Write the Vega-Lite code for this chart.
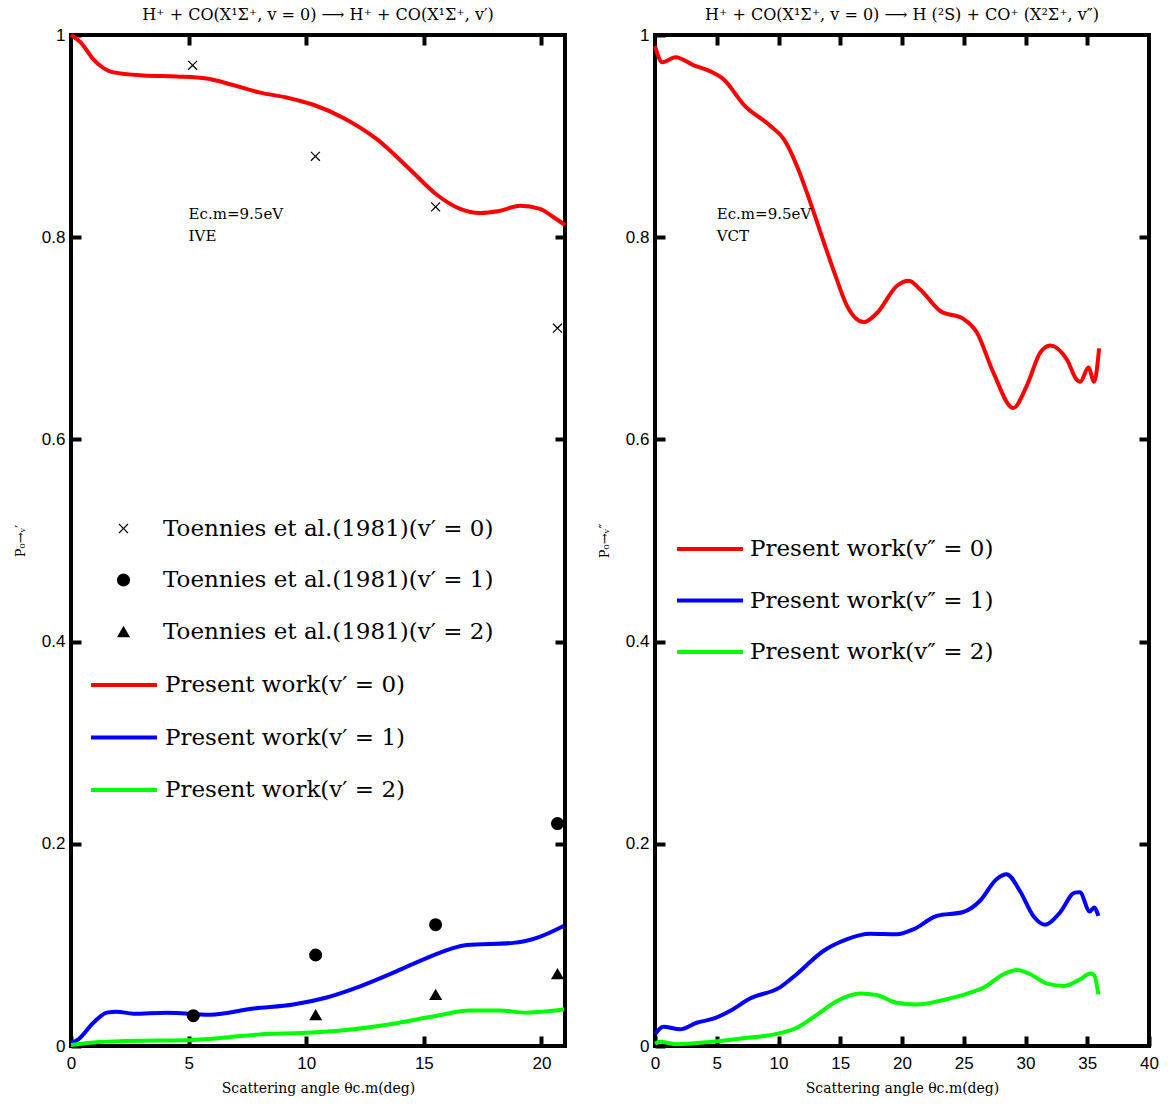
{
  "$schema": "https://vega.github.io/schema/vega-lite/v6.json",
  "background": "white",
  "padding": {"left": 12, "top": 5, "right": 0, "bottom": 0},
  "spacing": 21,
  "config": {
    "view": {"stroke": "black", "strokeWidth": 4},
    "axis": {
      "domain": false,
      "grid": false,
      "ticks": true,
      "tickColor": "black",
      "tickWidth": 4,
      "tickSize": -10,
      "labelFlush": false,
      "labelFont": "Liberation Sans",
      "labelFontSize": 17,
      "labelColor": "black",
      "titleFont": "DejaVu Serif",
      "titleFontWeight": "normal",
      "titleColor": "black"
    },
    "title": {"font": "DejaVu Serif", "fontSize": 16, "fontWeight": "normal", "color": "black", "offset": 3},
    "legend": {"padding": 0, "labelFont": "DejaVu Serif", "labelFontSize": 23, "labelColor": "black", "labelLimit": 0, "title": null}
  },
  "datasets": {
    "ive": [
      {"angle": 0, "p": 1.0, "series": "Present work(v′ = 0)"},
      {"angle": 0.4, "p": 0.993, "series": "Present work(v′ = 0)"},
      {"angle": 0.95, "p": 0.976, "series": "Present work(v′ = 0)"},
      {"angle": 1.4, "p": 0.967, "series": "Present work(v′ = 0)"},
      {"angle": 1.8, "p": 0.963, "series": "Present work(v′ = 0)"},
      {"angle": 3.07, "p": 0.96, "series": "Present work(v′ = 0)"},
      {"angle": 4.5, "p": 0.959, "series": "Present work(v′ = 0)"},
      {"angle": 5.77, "p": 0.957, "series": "Present work(v′ = 0)"},
      {"angle": 6.8, "p": 0.951, "series": "Present work(v′ = 0)"},
      {"angle": 8.04, "p": 0.943, "series": "Present work(v′ = 0)"},
      {"angle": 9.2, "p": 0.938, "series": "Present work(v′ = 0)"},
      {"angle": 10.3, "p": 0.931, "series": "Present work(v′ = 0)"},
      {"angle": 11.58, "p": 0.918, "series": "Present work(v′ = 0)"},
      {"angle": 13.0, "p": 0.897, "series": "Present work(v′ = 0)"},
      {"angle": 14.41, "p": 0.867, "series": "Present work(v′ = 0)"},
      {"angle": 15.55, "p": 0.842, "series": "Present work(v′ = 0)"},
      {"angle": 16.54, "p": 0.828, "series": "Present work(v′ = 0)"},
      {"angle": 17.39, "p": 0.824, "series": "Present work(v′ = 0)"},
      {"angle": 18.2, "p": 0.826, "series": "Present work(v′ = 0)"},
      {"angle": 19.09, "p": 0.831, "series": "Present work(v′ = 0)"},
      {"angle": 19.94, "p": 0.828, "series": "Present work(v′ = 0)"},
      {"angle": 20.5, "p": 0.82, "series": "Present work(v′ = 0)"},
      {"angle": 21.0, "p": 0.812, "series": "Present work(v′ = 0)"},
      {"angle": 0, "p": 0.003, "series": "Present work(v′ = 1)"},
      {"angle": 0.31, "p": 0.0066, "series": "Present work(v′ = 1)"},
      {"angle": 0.95, "p": 0.023, "series": "Present work(v′ = 1)"},
      {"angle": 1.52, "p": 0.033, "series": "Present work(v′ = 1)"},
      {"angle": 1.94, "p": 0.034, "series": "Present work(v′ = 1)"},
      {"angle": 2.65, "p": 0.032, "series": "Present work(v′ = 1)"},
      {"angle": 4.07, "p": 0.033, "series": "Present work(v′ = 1)"},
      {"angle": 5.91, "p": 0.031, "series": "Present work(v′ = 1)"},
      {"angle": 7.75, "p": 0.037, "series": "Present work(v′ = 1)"},
      {"angle": 9.45, "p": 0.041, "series": "Present work(v′ = 1)"},
      {"angle": 10.87, "p": 0.048, "series": "Present work(v′ = 1)"},
      {"angle": 12.29, "p": 0.059, "series": "Present work(v′ = 1)"},
      {"angle": 13.7, "p": 0.0725, "series": "Present work(v′ = 1)"},
      {"angle": 15.12, "p": 0.087, "series": "Present work(v′ = 1)"},
      {"angle": 16.82, "p": 0.1, "series": "Present work(v′ = 1)"},
      {"angle": 18.8, "p": 0.102, "series": "Present work(v′ = 1)"},
      {"angle": 19.8, "p": 0.107, "series": "Present work(v′ = 1)"},
      {"angle": 20.96, "p": 0.119, "series": "Present work(v′ = 1)"},
      {"angle": 0, "p": 0.001, "series": "Present work(v′ = 2)"},
      {"angle": 1.2, "p": 0.004, "series": "Present work(v′ = 2)"},
      {"angle": 2.37, "p": 0.005, "series": "Present work(v′ = 2)"},
      {"angle": 5.2, "p": 0.006, "series": "Present work(v′ = 2)"},
      {"angle": 8.04, "p": 0.0115, "series": "Present work(v′ = 2)"},
      {"angle": 10.0, "p": 0.013, "series": "Present work(v′ = 2)"},
      {"angle": 11.58, "p": 0.0155, "series": "Present work(v′ = 2)"},
      {"angle": 13.7, "p": 0.022, "series": "Present work(v′ = 2)"},
      {"angle": 15.55, "p": 0.03, "series": "Present work(v′ = 2)"},
      {"angle": 16.96, "p": 0.035, "series": "Present work(v′ = 2)"},
      {"angle": 18.2, "p": 0.035, "series": "Present work(v′ = 2)"},
      {"angle": 19.37, "p": 0.033, "series": "Present work(v′ = 2)"},
      {"angle": 20.96, "p": 0.036, "series": "Present work(v′ = 2)"}
    ],
    "toennies": [
      {"angle": 5.17, "p": 0.97, "series": "Toennies et al.(1981)(v′ = 0)"},
      {"angle": 10.39, "p": 0.88, "series": "Toennies et al.(1981)(v′ = 0)"},
      {"angle": 15.5, "p": 0.83, "series": "Toennies et al.(1981)(v′ = 0)"},
      {"angle": 20.68, "p": 0.71, "series": "Toennies et al.(1981)(v′ = 0)"},
      {"angle": 5.2, "p": 0.03, "series": "Toennies et al.(1981)(v′ = 1)"},
      {"angle": 10.4, "p": 0.09, "series": "Toennies et al.(1981)(v′ = 1)"},
      {"angle": 15.5, "p": 0.12, "series": "Toennies et al.(1981)(v′ = 1)"},
      {"angle": 20.68, "p": 0.22, "series": "Toennies et al.(1981)(v′ = 1)"},
      {"angle": 10.4, "p": 0.031, "series": "Toennies et al.(1981)(v′ = 2)"},
      {"angle": 15.5, "p": 0.051, "series": "Toennies et al.(1981)(v′ = 2)"},
      {"angle": 20.68, "p": 0.0715, "series": "Toennies et al.(1981)(v′ = 2)"}
    ],
    "vct": [
      {"angle": 0.0, "p": 0.989, "state": "Present work(v″ = 0)"},
      {"angle": 0.6, "p": 0.973, "state": "Present work(v″ = 0)"},
      {"angle": 1.66, "p": 0.978, "state": "Present work(v″ = 0)"},
      {"angle": 3.14, "p": 0.97, "state": "Present work(v″ = 0)"},
      {"angle": 4.49, "p": 0.964, "state": "Present work(v″ = 0)"},
      {"angle": 5.57, "p": 0.956, "state": "Present work(v″ = 0)"},
      {"angle": 7.19, "p": 0.931, "state": "Present work(v″ = 0)"},
      {"angle": 9.35, "p": 0.91, "state": "Present work(v″ = 0)"},
      {"angle": 10.43, "p": 0.897, "state": "Present work(v″ = 0)"},
      {"angle": 11.51, "p": 0.87, "state": "Present work(v″ = 0)"},
      {"angle": 12.59, "p": 0.834, "state": "Present work(v″ = 0)"},
      {"angle": 13.67, "p": 0.795, "state": "Present work(v″ = 0)"},
      {"angle": 14.61, "p": 0.762, "state": "Present work(v″ = 0)"},
      {"angle": 15.55, "p": 0.732, "state": "Present work(v″ = 0)"},
      {"angle": 16.9, "p": 0.716, "state": "Present work(v″ = 0)"},
      {"angle": 17.98, "p": 0.725, "state": "Present work(v″ = 0)"},
      {"angle": 19.6, "p": 0.752, "state": "Present work(v″ = 0)"},
      {"angle": 20.55, "p": 0.757, "state": "Present work(v″ = 0)"},
      {"angle": 21.5, "p": 0.748, "state": "Present work(v″ = 0)"},
      {"angle": 23.1, "p": 0.727, "state": "Present work(v″ = 0)"},
      {"angle": 25.0, "p": 0.719, "state": "Present work(v″ = 0)"},
      {"angle": 26.05, "p": 0.706, "state": "Present work(v″ = 0)"},
      {"angle": 27.4, "p": 0.666, "state": "Present work(v″ = 0)"},
      {"angle": 29.0, "p": 0.631, "state": "Present work(v″ = 0)"},
      {"angle": 30.1, "p": 0.653, "state": "Present work(v″ = 0)"},
      {"angle": 31.2, "p": 0.686, "state": "Present work(v″ = 0)"},
      {"angle": 32.0, "p": 0.693, "state": "Present work(v″ = 0)"},
      {"angle": 33.35, "p": 0.679, "state": "Present work(v″ = 0)"},
      {"angle": 34.15, "p": 0.659, "state": "Present work(v″ = 0)"},
      {"angle": 34.43, "p": 0.657, "state": "Present work(v″ = 0)"},
      {"angle": 35.1, "p": 0.671, "state": "Present work(v″ = 0)"},
      {"angle": 35.56, "p": 0.657, "state": "Present work(v″ = 0)"},
      {"angle": 35.96, "p": 0.69, "state": "Present work(v″ = 0)"},
      {"angle": 0.0, "p": 0.0116, "state": "Present work(v″ = 1)"},
      {"angle": 0.67, "p": 0.019, "state": "Present work(v″ = 1)"},
      {"angle": 2.03, "p": 0.0165, "state": "Present work(v″ = 1)"},
      {"angle": 3.37, "p": 0.023, "state": "Present work(v″ = 1)"},
      {"angle": 4.72, "p": 0.027, "state": "Present work(v″ = 1)"},
      {"angle": 6.07, "p": 0.0346, "state": "Present work(v″ = 1)"},
      {"angle": 7.69, "p": 0.047, "state": "Present work(v″ = 1)"},
      {"angle": 10.12, "p": 0.058, "state": "Present work(v″ = 1)"},
      {"angle": 11.47, "p": 0.071, "state": "Present work(v″ = 1)"},
      {"angle": 13.63, "p": 0.094, "state": "Present work(v″ = 1)"},
      {"angle": 15.52, "p": 0.1055, "state": "Present work(v″ = 1)"},
      {"angle": 17.41, "p": 0.111, "state": "Present work(v″ = 1)"},
      {"angle": 19.57, "p": 0.1105, "state": "Present work(v″ = 1)"},
      {"angle": 20.92, "p": 0.1154, "state": "Present work(v″ = 1)"},
      {"angle": 22.8, "p": 0.1286, "state": "Present work(v″ = 1)"},
      {"angle": 24.96, "p": 0.1325, "state": "Present work(v″ = 1)"},
      {"angle": 26.3, "p": 0.1434, "state": "Present work(v″ = 1)"},
      {"angle": 27.65, "p": 0.165, "state": "Present work(v″ = 1)"},
      {"angle": 28.46, "p": 0.17, "state": "Present work(v″ = 1)"},
      {"angle": 29.55, "p": 0.1533, "state": "Present work(v″ = 1)"},
      {"angle": 30.63, "p": 0.1286, "state": "Present work(v″ = 1)"},
      {"angle": 31.58, "p": 0.12, "state": "Present work(v″ = 1)"},
      {"angle": 32.79, "p": 0.132, "state": "Present work(v″ = 1)"},
      {"angle": 34.0, "p": 0.1517, "state": "Present work(v″ = 1)"},
      {"angle": 34.4, "p": 0.152, "state": "Present work(v″ = 1)"},
      {"angle": 35.2, "p": 0.133, "state": "Present work(v″ = 1)"},
      {"angle": 35.56, "p": 0.137, "state": "Present work(v″ = 1)"},
      {"angle": 35.9, "p": 0.1286, "state": "Present work(v″ = 1)"},
      {"angle": 0.0, "p": 0.0023, "state": "Present work(v″ = 2)"},
      {"angle": 0.4, "p": 0.0043, "state": "Present work(v″ = 2)"},
      {"angle": 1.75, "p": 0.0017, "state": "Present work(v″ = 2)"},
      {"angle": 4.45, "p": 0.004, "state": "Present work(v″ = 2)"},
      {"angle": 7.15, "p": 0.0076, "state": "Present work(v″ = 2)"},
      {"angle": 9.85, "p": 0.012, "state": "Present work(v″ = 2)"},
      {"angle": 11.5, "p": 0.018, "state": "Present work(v″ = 2)"},
      {"angle": 13.12, "p": 0.031, "state": "Present work(v″ = 2)"},
      {"angle": 14.74, "p": 0.0445, "state": "Present work(v″ = 2)"},
      {"angle": 16.6, "p": 0.052, "state": "Present work(v″ = 2)"},
      {"angle": 17.94, "p": 0.0504, "state": "Present work(v″ = 2)"},
      {"angle": 19.57, "p": 0.0428, "state": "Present work(v″ = 2)"},
      {"angle": 21.2, "p": 0.041, "state": "Present work(v″ = 2)"},
      {"angle": 23.36, "p": 0.0455, "state": "Present work(v″ = 2)"},
      {"angle": 25.52, "p": 0.0527, "state": "Present work(v″ = 2)"},
      {"angle": 26.6, "p": 0.0577, "state": "Present work(v″ = 2)"},
      {"angle": 28.22, "p": 0.071, "state": "Present work(v″ = 2)"},
      {"angle": 29.3, "p": 0.0752, "state": "Present work(v″ = 2)"},
      {"angle": 30.4, "p": 0.071, "state": "Present work(v″ = 2)"},
      {"angle": 31.75, "p": 0.0617, "state": "Present work(v″ = 2)"},
      {"angle": 33.1, "p": 0.0594, "state": "Present work(v″ = 2)"},
      {"angle": 34.43, "p": 0.066, "state": "Present work(v″ = 2)"},
      {"angle": 35.24, "p": 0.0716, "state": "Present work(v″ = 2)"},
      {"angle": 35.56, "p": 0.07, "state": "Present work(v″ = 2)"},
      {"angle": 35.9, "p": 0.0511, "state": "Present work(v″ = 2)"}
    ]
  },
  "resolve": {
    "scale": {"x": "independent", "y": "independent", "color": "independent", "shape": "independent"},
    "legend": {"color": "independent", "shape": "independent"}
  },
  "hconcat": [
    {
      "width": 494,
      "height": 1011,
      "title": {"text": "H⁺ + CO(X¹Σ⁺, v = 0) ⟶ H⁺ + CO(X¹Σ⁺, v′)"},
      "resolve": {"axis": {"x": "independent", "y": "independent"}},
      "layer": [
        {
          "data": {"name": "ive"},
          "mark": {"type": "line", "strokeWidth": 4, "interpolate": "monotone"},
          "encoding": {
            "x": {"field": "angle", "type": "quantitative", "scale": {"domain": [0, 21], "nice": false, "zero": false},
                  "axis": {"orient": "bottom", "values": [0, 5, 10, 15, 20], "title": "Scattering angle θc.m(deg)", "titleFontSize": 14, "labelPadding": 19, "titlePadding": 10}},
            "y": {"field": "p", "type": "quantitative", "scale": {"domain": [0, 1], "nice": false},
                  "axis": {"orient": "left", "values": [0, 0.2, 0.4, 0.6, 0.8, 1], "format": "~g", "title": "P₀→ᵥ′", "titleFontSize": 13, "labelPadding": 16, "titlePadding": 14}},
            "color": {"field": "series", "type": "nominal",
                      "scale": {"domain": ["Present work(v′ = 0)", "Present work(v′ = 1)", "Present work(v′ = 2)"], "range": ["#ff0000", "#0000ff", "#00ff00"]},
                      "legend": {"orient": "none", "legendX": 40, "legendY": 637, "symbolType": "M-3,0H3", "symbolSize": 484, "symbolStrokeWidth": 4, "labelOffset": 28, "rowPadding": 27.5}}
          }
        },
        {
          "data": {"name": "toennies"},
          "mark": {"type": "point", "filled": true, "color": "black", "strokeWidth": 0, "size": 170, "opacity": 1},
          "encoding": {
            "x": {"field": "angle", "type": "quantitative",
                  "axis": {"orient": "top", "values": [5, 10, 15, 20], "labels": false, "title": null}},
            "y": {"field": "p", "type": "quantitative",
                  "axis": {"orient": "right", "values": [0.2, 0.4, 0.6, 0.8], "labels": false, "title": null}},
            "shape": {"field": "series", "type": "nominal",
                      "scale": {"domain": ["Toennies et al.(1981)(v′ = 0)", "Toennies et al.(1981)(v′ = 1)", "Toennies et al.(1981)(v′ = 2)"],
                                "range": ["M0,-0.13L0.62,-0.75L0.75,-0.62L0.13,0L0.75,0.62L0.62,0.75L0,0.13L-0.62,0.75L-0.75,0.62L-0.13,0L-0.75,-0.62L-0.62,-0.75Z", "circle", "triangle-up"]},
                      "legend": {"orient": "none", "legendX": 41, "legendY": 482, "symbolSize": 170, "symbolFillColor": "black", "symbolStrokeWidth": 0, "labelOffset": 28, "rowPadding": 27.5}}
          }
        },
        {
          "data": {"values": [{"panel": "IVE"}]},
          "mark": {"type": "text", "align": "left", "baseline": "middle", "font": "DejaVu Serif", "fontSize": 15, "lineHeight": 22, "color": "black",
                   "text": ["Ec.m=9.5eV", "IVE"]},
          "encoding": {
            "x": {"datum": 5.0, "type": "quantitative", "axis": null},
            "y": {"datum": 0.8225, "type": "quantitative", "axis": null}
          }
        }
      ]
    },
    {
      "width": 494,
      "height": 1011,
      "title": {"text": "H⁺ + CO(X¹Σ⁺, v = 0) ⟶ H (²S) + CO⁺ (X²Σ⁺, v″)"},
      "resolve": {"axis": {"x": "independent", "y": "independent"}},
      "layer": [
        {
          "data": {"name": "vct"},
          "mark": {"type": "line", "strokeWidth": 4, "interpolate": "monotone"},
          "encoding": {
            "x": {"field": "angle", "type": "quantitative", "scale": {"domain": [0, 40], "nice": false, "zero": false},
                  "axis": {"orient": "bottom", "values": [0, 5, 10, 15, 20, 25, 30, 35, 40], "title": "Scattering angle θc.m(deg)", "titleFontSize": 14, "labelPadding": 19, "titlePadding": 10}},
            "y": {"field": "p", "type": "quantitative", "scale": {"domain": [0, 1], "nice": false},
                  "axis": {"orient": "left", "values": [0, 0.2, 0.4, 0.6, 0.8, 1], "format": "~g", "title": "P₀→ᵥ″", "titleFontSize": 13, "labelPadding": 16, "titlePadding": 14}},
            "color": {"field": "state", "type": "nominal",
                      "scale": {"domain": ["Present work(v″ = 0)", "Present work(v″ = 1)", "Present work(v″ = 2)"], "range": ["#ff0000", "#0000ff", "#00ff00"]},
                      "legend": {"orient": "none", "legendX": 42, "legendY": 501, "symbolType": "M-3,0H3", "symbolSize": 484, "symbolStrokeWidth": 4, "labelOffset": 27, "rowPadding": 26.5}}
          }
        },
        {
          "data": {"values": [{"panel": "VCT"}]},
          "mark": {"type": "text", "align": "left", "baseline": "middle", "font": "DejaVu Serif", "fontSize": 15, "lineHeight": 22, "color": "black",
                   "text": ["Ec.m=9.5eV", "VCT"]},
          "encoding": {
            "x": {"datum": 5.0, "type": "quantitative",
                  "axis": {"orient": "top", "values": [5, 10, 15, 20, 25, 30, 35], "labels": false, "title": null}},
            "y": {"datum": 0.8225, "type": "quantitative",
                  "axis": {"orient": "right", "values": [0.2, 0.4, 0.6, 0.8], "labels": false, "title": null}}
          }
        }
      ]
    }
  ]
}
